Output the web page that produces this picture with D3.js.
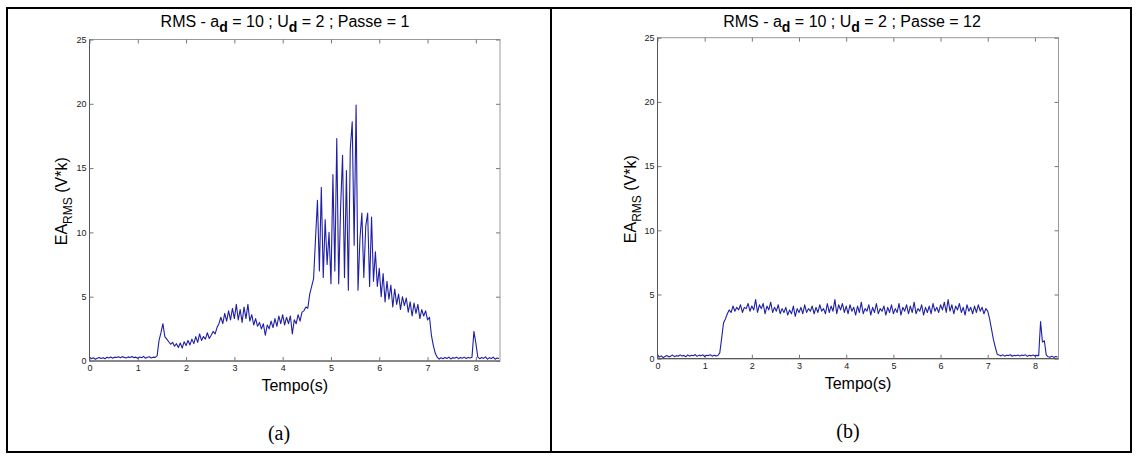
<!DOCTYPE html>
<html><head><meta charset="utf-8">
<script src="https://cdn.jsdelivr.net/npm/d3@7"></script>
<style>body{margin:0;background:#fff}svg{display:block}</style>
</head><body><svg id="c" width="1138" height="459"></svg>
<script>
// ---- data ----
const sampleStep = 0.04; // seconds between samples
const xTicks = [0,1,2,3,4,5,6,7,8];
const yTicks = [0,5,10,15,20,25];
const xDomain = [0, 8.5];
const yDomain = [0, 25];
const passes = ["1", "12"];
const panelLabels = ["(a)", "(b)"];
const xLabel = "Tempo(s)";

// EA RMS, passe 1 (t = 0.00, 0.04, ...)
const rmsPasse1 = [
 0.30,0.18,0.25,0.14,0.22,0.28,0.20,0.26,0.17,0.29,
 0.24,0.31,0.22,0.30,0.27,0.33,0.25,0.34,0.28,0.24,
 0.32,0.27,0.35,0.26,0.30,0.22,0.31,0.25,0.36,0.21,
 0.29,0.33,0.24,0.30,0.28,0.40,
 1.6,2.2,2.9,1.9,1.7,1.5,1.3,1.45,1.15,1.35,
 1.05,1.4,1.0,1.5,1.2,1.6,1.25,1.7,1.35,1.9,
 1.45,2.1,1.6,1.9,1.7,2.2,1.75,2.0,2.3,2.1,
 2.6,2.9,3.4,2.9,3.7,3.1,3.9,3.2,4.1,3.3,
 4.4,3.2,4.0,3.0,4.2,3.3,4.4,3.1,3.6,2.8,
 3.3,2.7,3.0,2.5,2.9,2.0,2.8,2.5,3.1,2.6,
 3.3,2.7,3.5,2.9,3.6,2.8,3.4,2.9,3.5,2.1,
 3.2,2.9,3.6,3.1,3.8,3.9,4.2,4.1,5.2,5.8,
 6.4,9.5,12.5,7.0,13.5,6.5,11.0,7.5,10.0,6.0,
 14.5,7.0,17.3,6.0,12.0,16.0,6.5,14.8,5.5,16.5,
 18.6,9.0,19.9,5.5,9.5,11.5,6.5,10.5,11.5,5.8,
 11.2,6.2,8.5,5.8,7.2,5.0,6.8,4.6,6.2,4.8,
 5.9,4.2,5.6,4.4,5.2,4.0,5.0,4.3,4.9,3.8,
 4.6,3.5,4.5,3.7,4.4,3.3,4.0,3.5,3.9,3.2,
 3.4,2.0,1.2,0.6,0.3,0.15,0.25,0.18,0.28,0.2,
 0.3,0.16,0.26,0.22,0.3,0.18,0.27,0.21,0.3,0.19,
 0.28,0.23,0.3,2.3,1.4,0.3,0.18,0.27,0.2,0.32,
 0.15,0.26,0.19,0.3,0.14,0.24,0.2
];

// EA RMS, passe 12 (t = 0.00, 0.04, ...)
const rmsPasse12 = [
 0.3,0.12,0.22,0.08,0.18,0.25,0.14,0.2,0.28,0.16,
 0.24,0.19,0.3,0.21,0.26,0.15,0.29,0.2,0.27,0.23,
 0.32,0.18,0.28,0.22,0.3,0.17,0.26,0.24,0.31,0.2,
 0.27,0.22,0.25,0.45,1.6,2.8,3.1,3.5,3.8,3.6,
 4.1,3.7,4.0,3.8,4.2,3.6,4.0,3.9,4.3,3.7,
 4.1,3.8,4.6,3.6,4.2,3.9,4.3,3.5,4.1,3.8,
 4.4,3.6,4.0,3.7,4.2,3.5,3.9,3.6,4.0,3.4,
 3.8,3.5,4.1,3.3,3.9,3.6,4.0,3.5,4.2,3.6,
 3.9,3.7,4.1,3.5,4.0,3.6,4.2,3.7,3.9,3.5,
 4.3,3.6,4.1,3.7,4.6,3.5,4.2,3.8,4.3,3.6,
 4.1,3.5,4.2,3.7,4.0,3.4,4.1,3.6,4.4,3.5,
 3.9,3.7,4.2,3.4,4.0,3.6,4.3,3.5,3.9,3.7,
 4.1,3.4,4.0,3.6,4.2,3.5,3.9,3.6,4.3,3.4,
 4.0,3.7,4.2,3.5,4.1,3.6,4.4,3.5,3.9,3.7,
 4.2,3.4,4.0,3.6,4.1,3.5,4.3,3.7,4.0,3.6,
 4.2,3.8,4.4,3.6,4.6,3.7,4.2,3.5,4.1,3.8,
 4.3,3.6,4.0,3.4,4.2,3.7,4.0,3.5,4.1,3.6,
 4.2,3.7,4.0,3.5,3.9,3.7,3.1,2.3,1.5,0.9,
 0.35,0.28,0.22,0.3,0.2,0.27,0.24,0.31,0.19,0.26,
 0.23,0.29,0.2,0.28,0.25,0.3,0.18,0.27,0.22,0.29,
 0.21,0.26,0.24,2.9,1.3,1.4,0.3,0.15,0.12,0.2,
 0.1,0.17,0.14
];
const seriesList = [rmsPasse1, rmsPasse12];

// ---- layout ----
const svg = d3.select("#c");
const FONT = "'Liberation Sans', Arial, sans-serif";

// frame (table borders)
const frame = svg.append("g").attr("stroke", "#000").attr("stroke-width", 2).attr("fill", "none");
frame.append("rect").attr("x", 7).attr("y", 8).attr("width", 1124).attr("height", 444);
frame.append("line").attr("x1", 551).attr("x2", 551).attr("y1", 8).attr("y2", 452);

const layout = [
  {left: 89.5, right: 500, top: 39.5, bottom: 361, titleX: 285, ylabX: 66.5, labelX: 279, labelY: 440},
  {left: 657.5, right: 1058.5, top: 37.7, bottom: 358.7, titleX: 852, ylabX: 635.5, labelX: 848, labelY: 438}
];

layout.forEach((L, k) => {
  const g = svg.append("g");
  const x = d3.scaleLinear().domain(xDomain).range([L.left, L.right]);
  const y = d3.scaleLinear().domain(yDomain).range([L.bottom, L.top]);

  // box
  g.append("rect").attr("x", L.left).attr("y", L.top)
    .attr("width", L.right - L.left).attr("height", L.bottom - L.top)
    .attr("fill", "none").attr("stroke", "#9a9a9a").attr("stroke-width", 1);
  g.append("line").attr("x1", L.left).attr("x2", L.left).attr("y1", L.top).attr("y2", L.bottom).attr("stroke", "#555");
  g.append("line").attr("x1", L.left).attr("x2", L.right).attr("y1", L.bottom).attr("y2", L.bottom).attr("stroke", "#444");

  const styleAxis = sel => {
    sel.select(".domain").remove();
    sel.selectAll("line").attr("stroke", "#777");
    sel.selectAll("text").attr("fill", "#222").style("font-family", FONT).style("font-size", "9px");
  };
  g.append("g").attr("transform", `translate(0,${L.bottom})`)
    .call(d3.axisBottom(x).tickValues(xTicks).tickSizeInner(-4).tickSizeOuter(0).tickPadding(4).tickFormat(d3.format("d")))
    .call(styleAxis);
  g.append("g").attr("transform", `translate(0,${L.top})`)
    .call(d3.axisTop(x).tickValues(xTicks).tickSizeInner(-4).tickSizeOuter(0).tickFormat(""))
    .call(styleAxis);
  g.append("g").attr("transform", `translate(${L.left},0)`)
    .call(d3.axisLeft(y).tickValues(yTicks).tickSizeInner(-4).tickSizeOuter(0).tickPadding(3).tickFormat(d3.format("d")))
    .call(styleAxis);
  g.append("g").attr("transform", `translate(${L.right},0)`)
    .call(d3.axisRight(y).tickValues(yTicks).tickSizeInner(-4).tickSizeOuter(0).tickFormat(""))
    .call(styleAxis);

  // clip
  const cid = "clip" + k;
  svg.append("clipPath").attr("id", cid).append("rect")
    .attr("x", L.left).attr("y", L.top).attr("width", L.right - L.left).attr("height", L.bottom - L.top);

  const line = d3.line().x((d, i) => x(i * sampleStep)).y(d => y(d));
  g.append("path").datum(seriesList[k]).attr("clip-path", `url(#${cid})`)
    .attr("d", line).attr("fill", "none").attr("stroke", "#1f1fa6").attr("stroke-width", 1.1)
    .attr("stroke-linejoin", "round");

  // title
  const t = g.append("text").attr("x", L.titleX).attr("y", 27).attr("text-anchor", "middle")
    .style("font-family", FONT).style("font-size", "16px").attr("fill", "#000");
  t.append("tspan").text("RMS - a");
  t.append("tspan").attr("dy", 5).style("font-size", "14px").style("font-weight", "bold").text("d");
  t.append("tspan").attr("dy", -5).text(" = 10 ; U");
  t.append("tspan").attr("dy", 5).style("font-size", "14px").style("font-weight", "bold").text("d");
  t.append("tspan").attr("dy", -5).text(" = 2 ; Passe = " + passes[k]);

  // x label
  g.append("text").attr("x", (L.left + L.right) / 2).attr("y", L.bottom + 30).attr("text-anchor", "middle")
    .style("font-family", FONT).style("font-size", "16px").text(xLabel);

  // y label
  const yl = g.append("text").attr("transform", `translate(${L.ylabX},${(L.top + L.bottom) / 2 + 1}) rotate(-90)`)
    .attr("text-anchor", "middle").style("font-family", FONT).style("font-size", "16px");
  yl.append("tspan").text("EA");
  yl.append("tspan").attr("dy", 5).style("font-size", "12px").text("RMS");
  yl.append("tspan").attr("dy", -5).text(" (V*k)");

  // panel label
  g.append("text").attr("x", L.labelX).attr("y", L.labelY).attr("text-anchor", "middle")
    .style("font-family", "'Liberation Serif', 'Times New Roman', serif").style("font-size", "20px").text(panelLabels[k]);
});
</script>
</body></html>
